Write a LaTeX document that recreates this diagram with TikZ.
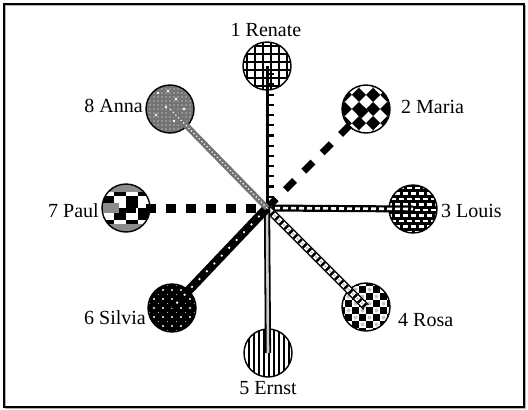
\documentclass[tikz,border=0pt]{standalone}
\usepackage{fontspec}
\setmainfont{Liberation Serif}
\begin{document}
\begin{tikzpicture}[x=1pt,y=-1pt,
  pers/.style={circle, minimum size=48pt, inner sep=0pt},
  rim/.style={draw, line width=1.4pt},
  lab/.style={font=\fontsize{20}{24}\selectfont, inner sep=0pt}]
\useasboundingbox (0,0) rectangle (528,410);
\draw[gray!60, line width=1.2pt] (5.8,5.8) rectangle (525.5,408.5);
\draw[line width=1.5pt] (4.2,4.2) rectangle (524,407);

\coordinate (c) at (267,208);
\node[pers] (p1) at (267,66) {};
\node[pers] (p2) at (366,109) {};
\node[pers] (p3) at (413,209) {};
\node[pers] (p4) at (366,307) {};
\node[pers] (p5) at (268,353) {};
\node[pers] (p6) at (172,308) {};
\node[pers] (p7) at (126,208) {};
\node[pers] (p8) at (170,109) {};

% Renate: grid
\begin{scope}[shift={(p1.center)}]
\clip (0,0) circle (24pt);
\fill[white] (-25,-25) rectangle (25,25);
\foreach \i in {-24,-16,...,24} {
  \draw[line width=2.2pt] (\i+4,-26) -- (\i+4,26);
  \draw[line width=2.2pt] (-26,\i+4) -- (26,\i+4);
}
\end{scope}
% Maria: big diamonds
\begin{scope}[shift={(p2.center)}]
\clip (0,0) circle (24pt);
\fill[white] (-25,-25) rectangle (25,25);
\begin{scope}[rotate=45]
\foreach \i in {-4,...,3} \foreach \j in {-4,...,3} {
  \pgfmathtruncatemacro\pc{mod(\i+\j+20,2)}
  \ifnum\pc=0 \fill[black] (\i*10,\j*10) rectangle ++(10,10); \fi
}
\end{scope}
\end{scope}
% Louis: black with white dashes
\begin{scope}[shift={(p3.center)}]
\clip (0,0) circle (24pt);
\fill[black] (-25,-25) rectangle (25,25);
\foreach \r [count=\k] in {-21,-15.5,...,24} {
  \pgfmathtruncatemacro\pc{mod(\k,2)}
  \ifnum\pc=0
    \draw[white, line width=2.4pt, dash pattern=on 4.5pt off 3.5pt] (-26,\r) -- (26,\r);
  \else
    \draw[white, line width=2.4pt, dash pattern=on 4.5pt off 3.5pt, dash phase=4pt] (-26,\r) -- (26,\r);
  \fi
}
\end{scope}
% Rosa: checker
\begin{scope}[shift={(p4.center)}]
\clip (0,0) circle (24pt);
\fill[white] (-25,-25) rectangle (25,25);
\foreach \i in {-4,...,3} \foreach \j in {-4,...,3} {
  \pgfmathtruncatemacro\pc{mod(\i+\j+20,2)}
  \ifnum\pc=0 \fill[black] (\i*7,\j*7) rectangle ++(7,7);
  \else \fill[gray!45] (\i*7+3.5,\j*7+3.5) circle (2pt); \fi
}
\end{scope}
% Ernst: vertical lines
\begin{scope}[shift={(p5.center)}]
\clip (0,0) circle (24pt);
\fill[white] (-25,-25) rectangle (25,25);
\foreach \i in {-24,-19,...,26} \draw[line width=2pt] (\i,-26) -- (\i,26);
\end{scope}
% Silvia: black with white dots
\begin{scope}[shift={(p6.center)}]
\clip (0,0) circle (24pt);
\fill[black] (-25,-25) rectangle (25,25);
\foreach \i in {-27,-18,...,27} \foreach \j in {-27,-18,...,27}
  \fill[white] (\i,\j) circle (1.1pt);
\foreach \i in {-22.5,-13.5,...,27} \foreach \j in {-22.5,-13.5,...,27}
  \fill[gray!60] (\i,\j) circle (0.6pt);
\end{scope}
% Paul: big checker with gray
\begin{scope}[shift={(p7.center)}]
\clip (0,0) circle (24pt);
\fill[black] (-25,-25) rectangle (25,25);
\foreach \i in {-2,...,1} \foreach \j in {-2,...,1} {
  \pgfmathtruncatemacro\pc{mod(\i+\j+20,2)}
  \ifnum\pc=0 \fill[white] (\i*12,\j*12) rectangle ++(12,12); \fi
}
\fill[black!45] (-25,-25) rectangle (25,-16);
\fill[black!45] (-25,16) rectangle (25,25);
\fill[black!45] (-25,-5) rectangle (-7,5);
\end{scope}
% Anna: gray
\begin{scope}[shift={(p8.center)}]
\clip (0,0) circle (24pt);
\fill[black!55] (-25,-25) rectangle (25,25);
\foreach \i in {-24,-20,...,24} \foreach \j in {-24,-20,...,24}
  \fill[black!30] (\i,\j) circle (0.9pt);
\foreach \i/\j in {-12/-16,6/-10,-4/-2,14/0,-14/6,4/12,-2/-18,16/14}
  \fill[white] (\i,\j) circle (1.3pt);
\end{scope}

\foreach \n in {p1,p2,p3,p4,p5,p6,p7,p8}
  \draw[rim] (\n.center) circle (24pt);

% connectors
% Renate: rail with ticks
\draw[line width=6pt, dash pattern=on 2.2pt off 8pt] ([xshift=3.5pt]c) -- ([xshift=3.5pt]p1.center);
\draw[line width=3pt] (c) -- (p1.center);
% Maria: thick dashes
\draw[line width=7pt, dash pattern=on 13pt off 13pt] (c) -- (p2.center);
% Louis
\draw[line width=7pt] (c) -- (p3.center);
\draw[white, line width=2.6pt, dash pattern=on 5pt off 3pt] (c) -- (p3.center);
% Rosa
\draw[line width=8pt] (c) -- (p4.center);
\draw[white, line width=5pt] (c) -- (p4.center);
\draw[black, line width=5pt, dash pattern=on 2.5pt off 4pt] (c) -- (p4.center);
\draw[gray!50, line width=1.5pt, dash pattern=on 2pt off 4.5pt, dash phase=3pt] (c) -- (p4.center);
% Ernst
\draw[line width=1.8pt, double=gray!40, double distance=2.6pt] (c) -- (p5.center);
% Silvia
\draw[line width=9pt] (c) -- (p6.center);
\draw[white, line width=1.8pt, dash pattern=on 1.8pt off 9pt] (c) -- (p6.center);
% Paul
\draw[line width=9pt, dash pattern=on 10pt off 10pt] (p7.center) -- (c);
% Anna
\draw[black!55, line width=6pt] (c) -- (p8.center);
\draw[white, line width=1.2pt, dash pattern=on 1.2pt off 2.5pt] (c) -- (p8.center);

% labels
\node[lab] (l1) at (266,30) {1 Renate};
\node[lab, anchor=west] (l2) at (401,107) {2 Maria};
\node[lab, anchor=west] (l3) at (441,211) {3 Louis};
\node[lab, anchor=west] (l4) at (398,320) {4 Rosa};
\node[lab] (l5) at (268,388) {5 Ernst};
\node[lab, anchor=east] (l6) at (146,318) {6 Silvia};
\node[lab, anchor=east] (l7) at (99,211) {7 Paul};
\node[lab, anchor=east] (l8) at (143,106) {8 Anna};
\end{tikzpicture}
\end{document}
